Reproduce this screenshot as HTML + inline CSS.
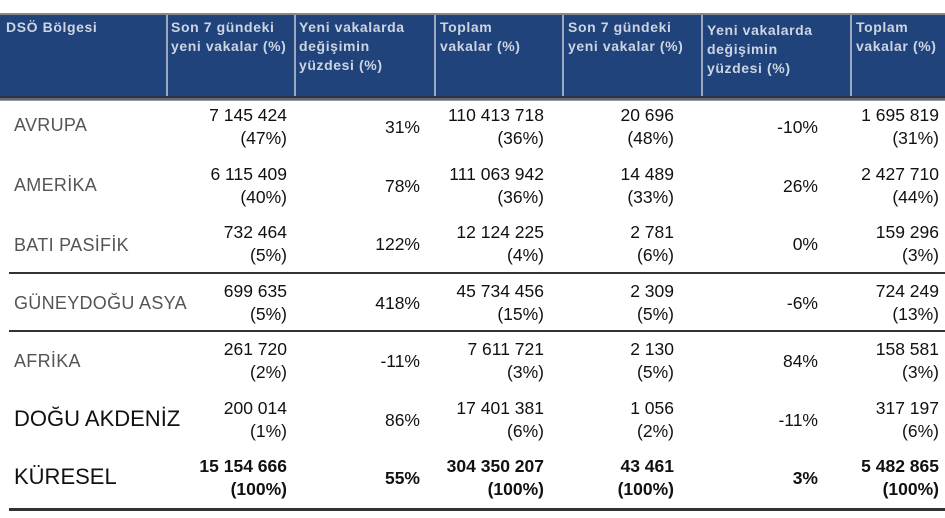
<!DOCTYPE html><html><head><meta charset="utf-8"><style>
body{margin:0;width:945px;height:518px;background:#fff;position:relative;overflow:hidden;font-family:"Liberation Sans",sans-serif}
.hd{position:absolute;left:0;top:13px;width:945px;height:83px;background:#1f437a;border-top:2px solid #888}
.sep{position:absolute;top:15px;height:83px;width:2px;background:#9aa8c0}
.ht{position:absolute;top:18px;color:#cdd5e2;font-weight:bold;font-size:14px;line-height:19px;letter-spacing:0.6px}
.dl{position:absolute;left:0;width:945px;background:#333}
.hl{position:absolute;left:9px;width:936px;height:2px;background:#333}
.n{position:absolute;font-size:17.5px;line-height:23px;text-align:right;color:#111}
.lab{position:absolute;left:14px;color:#555;font-size:18px;letter-spacing:0.3px}
.lab2{position:absolute;left:14px;color:#111;font-size:22px}
</style></head><body>
<div class="hd"></div>
<div class="sep" style="left:166px"></div><div class="sep" style="left:294px"></div><div class="sep" style="left:434px"></div><div class="sep" style="left:562px"></div><div class="sep" style="left:701px"></div><div class="sep" style="left:850px"></div>
<div class="ht" style="left:6px">DSÖ Bölgesi</div>
<div class="ht" style="left:171px">Son 7 gündeki<br>yeni vakalar (%)</div>
<div class="ht" style="left:299px">Yeni vakalarda<br>değişimin<br>yüzdesi (%)</div>
<div class="ht" style="left:440px">Toplam<br>vakalar (%)</div>
<div class="ht" style="left:568px">Son 7 gündeki<br>yeni vakalar (%)</div>
<div class="ht" style="left:707px;top:21px">Yeni vakalarda<br>değişimin<br>yüzdesi (%)</div>
<div class="ht" style="left:856px">Toplam<br>vakalar (%)</div>
<div class="dl" style="top:96px;height:2px"></div><div style="position:absolute;left:0;top:98px;width:945px;height:2px;background:#5a6a88"></div><div class="dl" style="top:100px;height:1px;background:#999"></div>
<div class="hl" style="top:272px"></div><div class="hl" style="top:330px"></div><div class="hl" style="top:508px;height:3px"></div>

<div class="lab" style="top:115px">AVRUPA</div>
<div class="lab" style="top:175px">AMERİKA</div>
<div class="lab" style="top:235px">BATI PASİFİK</div>
<div class="lab" style="top:293px">GÜNEYDOĞU ASYA</div>
<div class="lab" style="top:351px">AFRİKA</div>
<div class="lab2" style="top:406px">DOĞU AKDENİZ</div>
<div class="lab2" style="top:464px">KÜRESEL</div>

<div id="rows"></div>
<script>
var d=[["7 145 424","47%","31%","110 413 718","36%","20 696","48%","-10%","1 695 819","31%"],
["6 115 409","40%","78%","111 063 942","36%","14 489","33%","26%","2 427 710","44%"],
["732 464","5%","122%","12 124 225","4%","2 781","6%","0%","159 296","3%"],
["699 635","5%","418%","45 734 456","15%","2 309","5%","-6%","724 249","13%"],
["261 720","2%","-11%","7 611 721","3%","2 130","5%","84%","158 581","3%"],
["200 014","1%","86%","17 401 381","6%","1 056","2%","-11%","317 197","6%"],
["15 154 666","100%","55%","304 350 207","100%","43 461","100%","3%","5 482 865","100%"]];
var h="";
d.forEach(function(r,i){var t=104+i*58.5,w=i==6?"font-weight:bold;":"";
function two(a,b,right){h+='<div class="n" style="'+w+'top:'+t+'px;right:'+(945-right)+'px">'+a+'<br>('+b+')</div>';}
function one(a,right){h+='<div class="n" style="'+w+'top:'+(t+12)+'px;right:'+(945-right)+'px">'+a+'</div>';}
two(r[0],r[1],287);one(r[2],420);two(r[3],r[4],544);two(r[5],r[6],674);one(r[7],818);two(r[8],r[9],939);});
document.getElementById("rows").innerHTML=h;
</script>
</body></html>
